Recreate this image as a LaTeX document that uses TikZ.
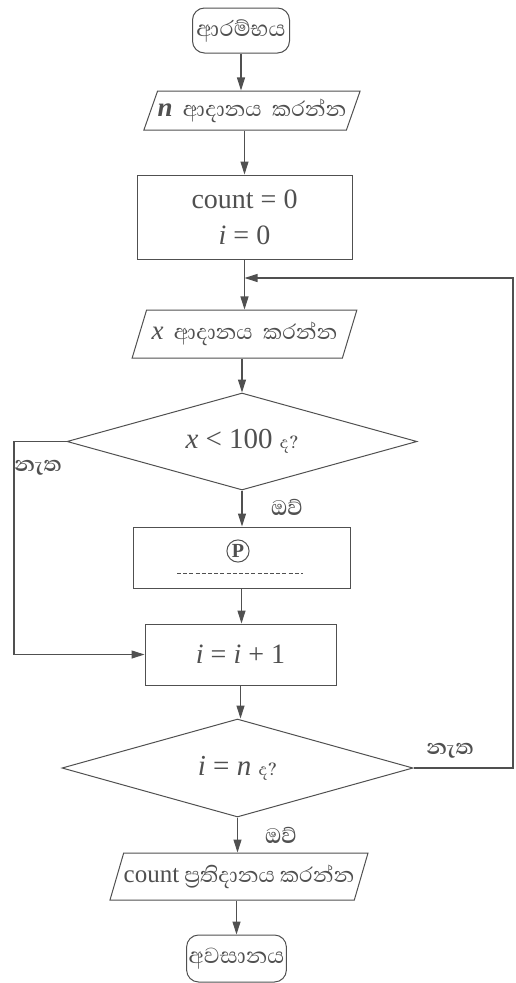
\documentclass[tikz,border=0pt]{standalone}
\usepackage{fontspec}
\setmainfont{Liberation Serif}
\newfontfamily\sinhfont[Script=Sinhala]{Abhaya Libre}
\usetikzlibrary{arrows.meta,positioning,shapes.geometric,calc}
\definecolor{ink}{HTML}{505050}

\begin{document}
\begin{tikzpicture}[x=1pt,y=-1pt,>={Triangle[length=13pt,width=8pt]},
 every node/.style={text=ink,line width=1pt},
 term/.style={draw=ink,rounded corners=12pt,minimum width=97pt,minimum height=45pt,inner sep=2pt,font=\sinhfont\fontsize{28}{28}\selectfont},
 io/.style={draw=ink,trapezium,trapezium left angle=60,trapezium right angle=120,trapezium stretches=true,inner sep=0pt,font=\sinhfont\fontsize{27}{27}\selectfont},
 proc/.style={draw=ink,font=\fontsize{28}{36}\selectfont,align=center},
 dec/.style={draw=ink,diamond,aspect=3.6,inner sep=0pt,font=\fontsize{29}{30}\selectfont},
 lbl/.style={font=\sinhfont\bfseries\fontsize{27}{27}\selectfont},
 line/.style={->,draw=ink,line width=1.1pt}]
\useasboundingbox (0,0) rectangle (515,983);
% main column
\node[term] (start) at (241,30.5) {ආරම්භය};
\node[io,minimum width=215pt,minimum height=39pt] (inn) at (252,110.5)
 {{\rmfamily\bfseries\fontsize{27}{27}\selectfont\textit{n}}\ \ ආදානය\ \ කරන්න};
\node[proc,minimum width=215pt,minimum height=84pt] (init) at (244.5,217)
 {count = 0\\\textit{i} = 0};
\node[io,minimum width=225pt,minimum height=48pt] (inx) at (244.5,334)
 {{\rmfamily\fontsize{27}{27}\selectfont\textit{x}}\ \ ආදානය\ \ කරන්න};
\node[dec,minimum width=350pt,minimum height=97pt] (chk) at (242,441.5)
 {\textit{x} < 100 {\sinhfont\fontsize{21}{21}\selectfont ද?}};
\node[proc,minimum width=217pt,minimum height=61pt] (body) at (241.5,557.5) {};
\node[draw=ink,circle,inner sep=1.5pt,font=\bfseries\fontsize{20}{20}\selectfont] (pmark) at (238,551) {P};
\draw[ink,line width=1pt,dash pattern=on 4pt off 2.2pt] (177,573) -- (303,573);
\node[proc,minimum width=191pt,minimum height=61pt] (inc) at (240.5,654.5)
 {\textit{i} = \textit{i} + 1};
\node[dec,minimum width=351pt,minimum height=98pt] (last) at (237.5,768)
 {\textit{i} = \textit{n} {\sinhfont\fontsize{21}{21}\selectfont ද?}};
\node[io,minimum width=252pt,minimum height=47pt] (outc) at (239,876.5)
 {{\rmfamily\fontsize{25}{25}\selectfont count} ප්‍රතිදානය කරන්න};
\node[term,minimum height=47pt] (stop) at (236.5,958.5) {අවසානය};
% branch labels
\node[lbl] (yes1) at (287,507) {ඔව්};
\node[lbl] (no1) at (38,468) {නැත};
\node[lbl] (no2) at (450,751) {නැත};
\node[lbl] (yes2) at (281,835) {ඔව්};
% loop ends
\coordinate (join) at (244.5,278);
\coordinate (lft) at (14,0);
\coordinate (rgt) at (513,0);
% connectors
\draw[line] (start.south) -- (start.south |- inn.north);
\draw[line] (init.north |- inn.south) -- (init.north);
\draw[line] (init.south) -- (init.south |- inx.north);
\draw[line] (chk.north |- inx.south) -- (chk.north);
\draw[line] (chk.south) -- (chk.south |- body.north);
\draw[line] (body.south) -- (body.south |- inc.north);
\draw[line] (inc.south) -- (inc.south |- last.north);
\draw[line] (last.south) -- (last.south |- outc.north);
\draw[line] (stop.north |- outc.south) -- (stop.north);
\draw[line] (chk.west) -- (chk.west -| lft) |- (inc.west);
\draw[line] (last.east) -- (last.east -| rgt) |- (join);
\end{tikzpicture}
\end{document}
